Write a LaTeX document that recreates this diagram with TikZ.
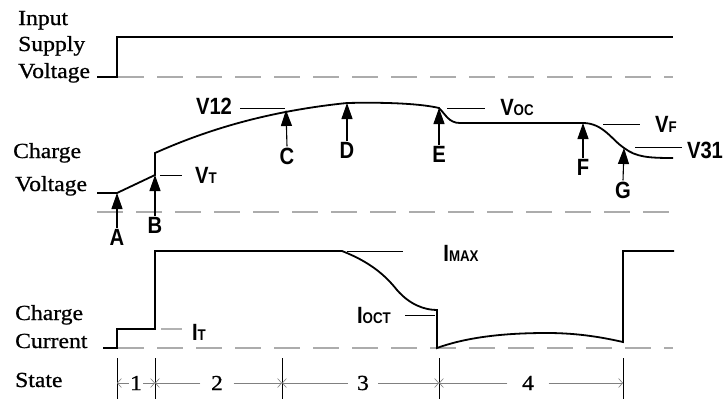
\documentclass[tikz,border=0pt]{standalone}
\usepackage{fontspec}
\setmainfont{Liberation Serif}[FakeStretch=1.1,FakeBold=0.8]
\newfontfamily\labfont{Liberation Sans}[BoldFont={Liberation Sans Bold},BoldFeatures={FakeStretch=0.86}]
\usetikzlibrary{arrows.meta}
\newcommand{\sbs}[1]{{\fontsize{15.5}{15.5}\selectfont #1}}
\begin{document}
\begin{tikzpicture}[x=1pt,y=-1pt,
  wave/.style={line width=1.8pt, black, line join=miter},
  guide/.style={gray!65, line width=1.4pt, dash pattern=on 26pt off 13pt},
  leader/.style={line width=0.9pt, black},
  ptr/.style={line width=1.1pt, -{Triangle[length=16pt,width=11pt]}},
  letter/.style={font=\labfont\bfseries\fontsize{23.5}{23.5}\selectfont, inner sep=1pt},
  side/.style={font=\fontsize{21.5}{24}\selectfont, anchor=base west, inner sep=0pt},
  digit/.style={font=\fontsize{21.5}{24}\selectfont, inner ysep=2pt},
  tick/.style={line width=0.9pt, black},
  statearr/.style={gray, line width=0.6pt, -{Straight Barb[length=4pt,width=9pt]}}]
\fill[white] (0,0) rectangle (726,399);
\useasboundingbox (0,0) rectangle (726,399);

% ---------- left captions ----------
\node[side] (in1) at (18,25) {Input};
\node[side] (in2) at (18,51) {Supply};
\node[side] (in3) at (18,78) {Voltage};
\node[side] (cv1) at (13,158) {Charge};
\node[side] (cv2) at (15,191) {Voltage};
\node[side] (cc1) at (15,320) {Charge};
\node[side] (cc2) at (15,348) {Current};
\node[side] (st)  at (15,387) {State};

% ---------- input supply voltage ----------
\draw[guide] (118,77) -- (673,77);
\draw[wave] (97,77) -- (117,77) -- (117,37) -- (673,37);

% ---------- charge voltage ----------
\draw[guide] (97,212) -- (673,212);
\coordinate (tA) at (117,193);
\coordinate (tB) at (155,175);
\coordinate (tC) at (286,110);
\coordinate (tD) at (347,103);
\coordinate (tE) at (439,108);
\coordinate (tF) at (583,123);
\coordinate (tG) at (624,148);
\draw[wave] (97,193) -- (tA) -- (tB) -- (155,153)
  .. controls (200,133) and (260,112) .. (tD)
  .. controls (390,102) and (422,104) .. (tE)
  .. controls (446,115) and (449,123) .. (460,123)
  -- (tF)
  .. controls (603,123) and (612,140) .. (tG)
  .. controls (636,157) and (648,158) .. (673,158);

\node[letter] (A) at (117,237) {A};
\node[letter] (B) at (155,225) {B};
\node[letter] (C) at (287,156) {C};
\node[letter] (D) at (347,150) {D};
\node[letter] (E) at (439,154) {E};
\node[letter] (F) at (583,167) {F};
\node[letter] (G) at (623,190) {G};
\foreach \n in {A,B,C,D,E,F,G} \draw[ptr] (\n.north) -- (t\n);

\node[letter] (V12) at (214,106) {V12};
\node[letter] (VT)  at (206,175) {V\sbs{T}};
\node[letter] (VOC) at (517,107) {V\sbs{OC}};
\node[letter] (VF)  at (666,124) {V\sbs{F}};
\node[letter] (V31) at (705,150) {V31};
\coordinate (v12a) at (240,108); \coordinate (v12b) at (285,108);
\coordinate (vta) at (160,175);  \coordinate (vtb) at (182,175);
\coordinate (voca) at (447,108); \coordinate (vocb) at (485,108);
\coordinate (vfa) at (603,124);  \coordinate (vfb) at (640,124);
\coordinate (v31a) at (635,147); \coordinate (v31b) at (682,147);
\draw[leader] (v12a) -- (v12b);
\draw[leader] (vta) -- (vtb);
\draw[leader] (voca) -- (vocb);
\draw[leader] (vfa) -- (vfb);
\draw[leader] (v31a) -- (v31b);

% ---------- charge current ----------
\draw[guide] (118,348) -- (673,348);
\draw[wave] (103,348) -- (117,348) -- (117,329) -- (155,329) -- (155,251) -- (342,251)
  .. controls (370,262) and (385,275) .. (397,290)
  .. controls (410,305) and (425,310) .. (437,310)
  -- (437,348)
  .. controls (470,336) and (510,333) .. (547,333)
  .. controls (580,333) and (605,338) .. (623,342)
  -- (623,251) -- (674,251);

\node[letter] (IT)   at (199,332) {I\sbs{T}};
\node[letter] (IMAX) at (461,253) {I\sbs{MAX}};
\node[letter] (IOCT) at (374,315) {I\sbs{OCT}};
\coordinate (ita) at (161,329);   \coordinate (itb) at (182,329);
\coordinate (imaxa) at (347,251); \coordinate (imaxb) at (403,251);
\coordinate (iocta) at (405,315); \coordinate (ioctb) at (435,315);
\draw[leader, gray!60, line width=1.4pt] (ita) -- (itb);
\draw[leader] (imaxa) -- (imaxb);
\draw[leader] (iocta) -- (ioctb);

% ---------- state row ----------
\foreach \i/\x in {1/117,2/155,3/282,4/439,5/623} {
  \coordinate (k\i) at (\x,358);
  \coordinate (kb\i) at (\x,399);
  \draw[tick] (k\i) -- (kb\i);
}
\node[digit, inner xsep=1pt]  (s1) at (136,383) {1};
\node[digit, inner xsep=10.5pt] (s2) at (217,383) {2};
\node[digit, inner xsep=9pt]  (s3) at (363,383) {3};
\node[digit, inner xsep=14.5pt] (s4) at (528,383) {4};
\draw[statearr] (s1.west) -- (k1 |- s1);
\draw[statearr] (s1.east) -- (k2 |- s1);
\draw[statearr] (s2.west) -- (k2 |- s2);
\draw[statearr] (s2.east) -- (k3 |- s2);
\draw[statearr] (s3.west) -- (k3 |- s3);
\draw[statearr] (s3.east) -- (k4 |- s3);
\draw[statearr] (s4.west) -- (k4 |- s4);
\draw[statearr] (s4.east) -- (k5 |- s4);
\end{tikzpicture}
\end{document}
